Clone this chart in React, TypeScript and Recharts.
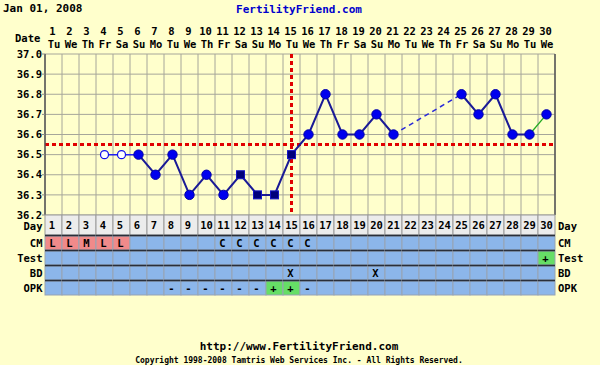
import React from 'react';
import { ComposedChart, Line, XAxis, YAxis, CartesianGrid, ReferenceLine } from 'recharts';

// cycle days and weekday labels (Jan 01, 2008 is a Tuesday)
const days = [1, 2, 3, 4, 5, 6, 7, 8, 9, 10, 11, 12, 13, 14, 15, 16, 17, 18, 19, 20, 21, 22, 23, 24, 25, 26, 27, 28, 29, 30];
const weekdays = ['Tu', 'We', 'Th', 'Fr', 'Sa', 'Su', 'Mo', 'Tu', 'We', 'Th', 'Fr', 'Sa', 'Su', 'Mo', 'Tu',
  'We', 'Th', 'Fr', 'Sa', 'Su', 'Mo', 'Tu', 'We', 'Th', 'Fr', 'Sa', 'Su', 'Mo', 'Tu', 'We'];

// BBT readings (null = no reading)
const temps = [null, null, null, 36.5, 36.5, 36.5, 36.4, 36.5, 36.3, 36.4, 36.3, 36.4, 36.3, 36.3, 36.5,
  36.6, 36.8, 36.6, 36.6, 36.7, 36.6, null, null, null, 36.8, 36.7, 36.8, 36.6, 36.6, 36.7];
// o = open circle, c = filled circle, s = square
const markers = ['', '', '', 'o', 'o', 'c', 'c', 'c', 'c', 'c', 'c', 's', 's', 's', 's',
  'c', 'c', 'c', 'c', 'c', 'c', '', '', '', 'c', 'c', 'c', 'c', 'c', 'c'];

// table rows under the chart
const cm = ['L', 'L', 'M', 'L', 'L', '', '', '', '', '', 'C', 'C', 'C', 'C', 'C',
  'C', '', '', '', '', '', '', '', '', '', '', '', '', '', ''];
const test = ['', '', '', '', '', '', '', '', '', '', '', '', '', '', '',
  '', '', '', '', '', '', '', '', '', '', '', '', '', '', '+'];
const bd = ['', '', '', '', '', '', '', '', '', '', '', '', '', '', 'X',
  '', '', '', '', 'X', '', '', '', '', '', '', '', '', '', ''];
const opk = ['', '', '', '', '', '', '', '-', '-', '-', '-', '-', '-', '+', '+',
  '-', '', '', '', '', '', '', '', '', '', '', '', '', '', ''];
const rowNames = ['CM', 'Test', 'BD', 'OPK'];

const tempTicks = [36.2, 36.3, 36.4, 36.5, 36.6, 36.7, 36.8, 36.9, 37.0];
const coverline = 36.55;
const ovulationDay = 15;

const FONT = '"DejaVu Sans Mono", monospace';
const BG = '#ffffcc';
const COL = 17;
const PLOT_BOTTOM = 215;

const inRange = (d: number, ranges: number[][]) => ranges.some(([a, b]) => d >= a && d <= b);

const data = days.map((day, i) => ({
  day,
  early: inRange(day, [[4, 6]]) ? temps[i] : null,
  main: inRange(day, [[6, 21], [25, 29]]) ? temps[i] : null,
  gap: day === 21 || day === 25 ? temps[i] : null,
  last: inRange(day, [[29, 30]]) ? temps[i] : null,
}));

const gridTicks = [0.5, ...days.map((d) => d + 0.5)];

const txt = { fontFamily: FONT, fontWeight: 'bold' as const, fontSize: 10.5, fill: '#000' };

const makeDot = (own: (d: number) => boolean) => (props: any) => {
  const { cx, cy, payload, index } = props;
  const key = `dot-${index}`;
  if (cy == null || cx == null || !own(payload.day)) return <g key={key} />;
  const m = markers[payload.day - 1];
  if (m === 'o') return <circle key={key} cx={cx} cy={cy} r={4} fill="#fff" stroke="#1010ee" strokeWidth={1.2} />;
  if (m === 's') return <rect key={key} x={cx - 4} y={cy - 4} width={8} height={8} fill="#00007a" stroke="#1515c8" />;
  return <circle key={key} cx={cx} cy={cy} r={4.7} fill="#0000ee" stroke="#0000a8" strokeWidth={1} />;
};

const TopTick = (props: any) => {
  const { x, payload } = props;
  const i = payload.value - 1;
  return (
    <g>
      <text x={x - 1} y={31.5} dy="0.35em" textAnchor="middle" {...txt}>{days[i]}</text>
      <text x={x + 0.5} y={44} dy="0.35em" textAnchor="middle" {...txt}>{weekdays[i]}</text>
    </g>
  );
};

const cellFill = (v: string) => {
  if (v === 'L' || v === 'M' || v === 'H') return '#f08a8a';
  if (v === '+') return '#66de66';
  return '#8cb6ea';
};

const TableColumn = (props: any) => {
  const { x, payload } = props;
  const i = payload.value - 1;
  const left = x - COL / 2;
  const cells = [cm[i], test[i], bd[i], opk[i]];
  const label = String(days[i]);
  return (
    <g>
      <rect x={left} y={PLOT_BOTTOM} width={COL} height={20} fill="#ececec" stroke="#9a9a9a" />
      <text x={x - (label.length === 1 ? 1.5 : 0)} y={225.5} dy="0.35em" textAnchor="middle" {...txt}>{label}</text>
      {cells.map((v, r) => {
        const y = 236 + r * 15;
        return (
          <g key={r}>
            <rect x={left} y={y} width={COL} height={14} fill={cellFill(v)} stroke="#97a3b3" />
            <line x1={left} x2={left + COL} y1={y - 0.5} y2={y - 0.5} stroke="#2a2f3a" strokeWidth={1.6} />
            {v ? <text x={x - 1} y={y + 7} dy="0.35em" textAnchor="middle" {...txt}>{v}</text> : null}
          </g>
        );
      })}
      {i === 0 ? (
        <g>
          <text x={left - 2.5} y={226} dy="0.35em" textAnchor="end" {...txt}>Day</text>
          {rowNames.map((n, r) => (
            <text key={n} x={left - 2.5} y={243 + r * 15} dy="0.35em" textAnchor="end" {...txt}>{n}</text>
          ))}
        </g>
      ) : null}
      {i === days.length - 1 ? (
        <g>
          <text x={left + COL + 3} y={226} dy="0.35em" textAnchor="start" {...txt}>Day</text>
          {rowNames.map((n, r) => (
            <text key={n} x={left + COL + 3} y={243 + r * 15} dy="0.35em" textAnchor="start" {...txt}>{n}</text>
          ))}
        </g>
      ) : null}
    </g>
  );
};

const abs = (left: number, top: number, extra: React.CSSProperties = {}): React.CSSProperties => ({
  position: 'absolute', left, top, fontFamily: FONT, fontWeight: 'bold', fontSize: 11, lineHeight: '12px', whiteSpace: 'nowrap', ...extra,
});

const App = () => {
  return (
    <div style={{ position: 'absolute', left: 0, top: 0, width: 600, height: 365, background: BG, overflow: 'hidden' }}>
      <div style={abs(3, 3)}>Jan 01, 2008</div>
      <div style={abs(0, 4, { width: 598, textAlign: 'center', color: '#0000cc' })}>FertilityFriend.com</div>
      <div style={abs(15, 32, { fontSize: 10.5 })}>Date</div>
      <div style={{ position: 'absolute', left: 0, top: 0 }}>
        <ComposedChart width={600} height={300} data={data} margin={{ top: 22, right: 0, bottom: 1, left: 0 }}>
          <XAxis xAxisId="grid" type="number" dataKey="day" domain={[0.5, 30.5]} ticks={gridTicks} interval={0} hide />
          <XAxis xAxisId="top" orientation="top" type="number" dataKey="day" domain={[0.5, 30.5]} ticks={days}
            interval={0} height={32} axisLine={false} tickLine={false} tick={<TopTick />} />
          <XAxis xAxisId="bottom" orientation="bottom" type="number" dataKey="day" domain={[0.5, 30.5]} ticks={days}
            interval={0} height={84} axisLine={false} tickLine={false} tick={<TableColumn />} />
          <YAxis yAxisId="t" orientation="left" width={45} domain={[36.2, 37.0]} ticks={tempTicks} interval={0}
            tickFormatter={(v: number) => v.toFixed(1)} tickSize={3} tickMargin={0}
            tickLine={{ stroke: '#888' }} axisLine={{ stroke: '#555', strokeWidth: 1.5 }} tick={txt} />
          <YAxis yAxisId="r" orientation="right" width={45} domain={[36.2, 37.0]} ticks={tempTicks} interval={0}
            tickFormatter={(v: number) => v.toFixed(1)} tickSize={3} tickMargin={0}
            tickLine={{ stroke: '#888' }} axisLine={{ stroke: '#555', strokeWidth: 1.5 }} tick={txt} />
          <CartesianGrid xAxisId="grid" yAxisId="t" stroke="#a6a69a" strokeWidth={1} fill={BG} />
          <ReferenceLine xAxisId="top" yAxisId="t" y={coverline} stroke="#e00000" strokeWidth={3} strokeDasharray="4 3" />
          <ReferenceLine xAxisId="top" yAxisId="t" x={ovulationDay} stroke="#e00000" strokeWidth={3} strokeDasharray="4 3" />
          <Line xAxisId="top" yAxisId="t" dataKey="gap" stroke="#2a2ad8" strokeWidth={1.5} strokeDasharray="5 4"
            connectNulls dot={false} isAnimationActive={false} />
          <Line xAxisId="top" yAxisId="t" dataKey="last" stroke="#22aa22" strokeWidth={1.3}
            dot={makeDot((d) => d === 30)} activeDot={false} isAnimationActive={false} />
          <Line xAxisId="top" yAxisId="t" dataKey="early" stroke="#2020f0" strokeWidth={1.5}
            dot={makeDot((d) => d === 4 || d === 5)} activeDot={false} isAnimationActive={false} />
          <Line xAxisId="top" yAxisId="t" dataKey="main" stroke="#1a1a96" strokeWidth={2}
            dot={makeDot((d) => d !== 4 && d !== 5 && d !== 30)} activeDot={false} isAnimationActive={false} />
        </ComposedChart>
      </div>
      <div style={abs(0, 341, { width: 598, textAlign: 'center' })}>http://www.FertilityFriend.com</div>
      <div style={abs(0, 356, { width: 598, textAlign: 'center', fontSize: 8, lineHeight: '9px' })}>
        Copyright 1998-2008 Tamtris Web Services Inc. - All Rights Reserved.
      </div>
    </div>
  );
};

export default App;
